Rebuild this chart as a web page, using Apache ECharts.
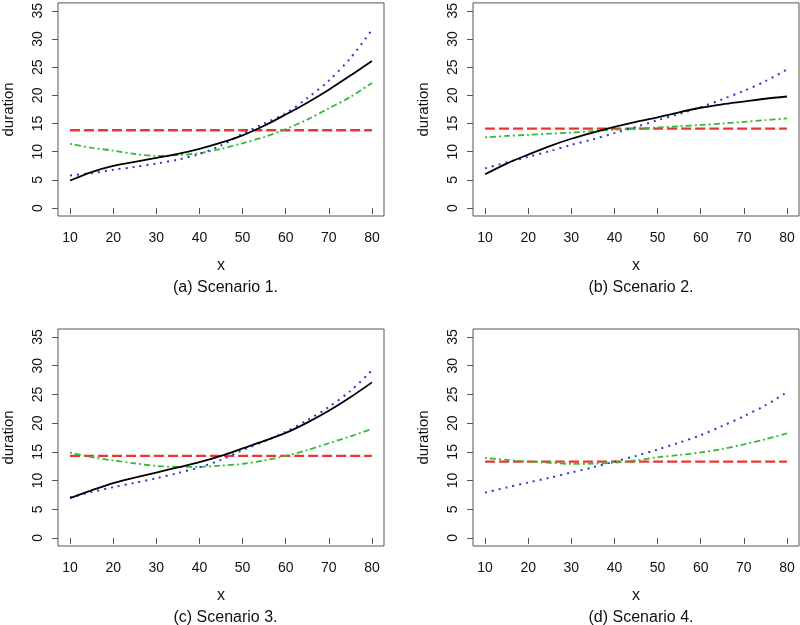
<!DOCTYPE html>
<html>
<head>
<meta charset="utf-8">
<script src="https://cdn.jsdelivr.net/npm/echarts@6/dist/echarts.min.js"></script>
<style>html,body{margin:0;padding:0;background:#fff}#c{width:800px;height:625px}</style>
</head>
<body>
<div id="c"></div>
<script>
var xs = [10, 15, 20, 25, 30, 35, 40, 45, 50, 55, 60, 65, 70, 75, 80];
var xTicks = [10, 20, 30, 40, 50, 60, 70, 80];
var yTicks = [0, 5, 10, 15, 20, 25, 30, 35];
var captions = ['(a) Scenario 1.', '(b) Scenario 2.', '(c) Scenario 3.', '(d) Scenario 4.'];

// Scenario 1
var s1Solid  = [4.9, 6.4, 7.5, 8.2, 8.9, 9.6, 10.5, 11.6, 12.9, 14.6, 16.6, 18.7, 21.0, 23.5, 26.1];
var s1Dotted = [5.8, 6.2, 6.8, 7.3, 7.9, 8.6, 9.6, 11.1, 13.2, 15.0, 16.8, 19.5, 22.6, 26.6, 31.6];
var s1DotDash= [11.4, 10.7, 10.2, 9.6, 9.25, 9.4, 9.75, 10.5, 11.5, 12.6, 14.0, 15.7, 17.7, 19.7, 22.2];
var s1Dashed = 13.8;
// Scenario 2
var s2Solid  = [6.0, 7.9, 9.5, 11.0, 12.3, 13.4, 14.4, 15.3, 16.1, 17.0, 17.8, 18.4, 18.9, 19.4, 19.8];
var s2Dotted = [7.05, 8.1, 9.1, 10.1, 11.2, 12.2, 13.3, 14.4, 15.6, 16.7, 17.9, 19.3, 20.8, 22.5, 24.6];
var s2DotDash= [12.55, 12.8, 13.0, 13.2, 13.4, 13.65, 13.9, 14.1, 14.3, 14.5, 14.75, 15.0, 15.3, 15.6, 15.9];
var s2Dashed = 14.1;
// Scenario 3
var s3Solid  = [6.95, 8.3, 9.55, 10.5, 11.4, 12.3, 13.2, 14.3, 15.6, 16.9, 18.3, 20.1, 22.15, 24.5, 27.1];
var s3Dotted = [7.05, 8.0, 8.85, 9.6, 10.4, 11.3, 12.3, 13.6, 15.3, 16.8, 18.5, 20.5, 22.8, 25.6, 29.2];
var s3DotDash= [14.85, 14.1, 13.5, 13.0, 12.55, 12.4, 12.4, 12.6, 12.9, 13.5, 14.3, 15.3, 16.5, 17.7, 19.0];
var s3Dashed = 14.3;
// Scenario 4
var s4Solid  = null;
var s4Dotted = [7.9, 8.8, 9.65, 10.5, 11.4, 12.3, 13.3, 14.3, 15.4, 16.6, 17.9, 19.5, 21.2, 23.1, 25.4];
var s4DotDash= [13.95, 13.6, 13.3, 13.1, 12.9, 12.95, 13.1, 13.5, 14.05, 14.45, 14.9, 15.5, 16.3, 17.2, 18.2];
var s4Dashed = 13.3;

var scen = [
  {solid: s1Solid, dotted: s1Dotted, dotdash: s1DotDash, dashed: s1Dashed},
  {solid: s2Solid, dotted: s2Dotted, dotdash: s2DotDash, dashed: s2Dashed},
  {solid: s3Solid, dotted: s3Dotted, dotdash: s3DotDash, dashed: s3Dashed},
  {solid: s4Solid, dotted: s4Dotted, dotdash: s4DotDash, dashed: s4Dashed}
];

var FONT = 'Liberation Sans, Arial, Helvetica, sans-serif';
var gridPos = [
  {left: 57, top: -1, width: 327, height: 217},
  {left: 473, top: -1, width: 326, height: 217},
  {left: 57, top: 329, width: 327, height: 217},
  {left: 473, top: 329, width: 326, height: 217}
];
var grids = [], xAxes = [], yAxes = [], series = [], titles = [];
function pairs(arr) { return xs.map(function (x, i) { return [x, arr[i]]; }); }
for (var i = 0; i < 4; i++) {
  var g = gridPos[i];
  grids.push({left: g.left, top: g.top, width: g.width, height: g.height, show: true,
    borderColor: '#555', borderWidth: 1, backgroundColor: 'transparent', containLabel: false});
  xAxes.push({type: 'value', gridIndex: i, min: 7.2, max: 82.8,
    name: 'x', nameLocation: 'middle', nameGap: 42,
    nameTextStyle: {fontFamily: FONT, fontSize: 16, color: '#111'},
    axisLine: {show: false}, splitLine: {show: false},
    axisTick: {show: true, length: 6, customValues: xTicks, lineStyle: {color: '#555', width: 1}},
    axisLabel: {customValues: xTicks, fontFamily: FONT, fontSize: 14, color: '#111', margin: 15}
  });
  yAxes.push({type: 'value', gridIndex: i, min: -1.4, max: 36.4,
    name: 'duration', nameLocation: 'middle', nameGap: 42,
    nameTextStyle: {fontFamily: FONT, fontSize: 15, color: '#111'},
    axisLine: {show: false}, splitLine: {show: false},
    axisTick: {show: true, length: 6, customValues: yTicks, lineStyle: {color: '#555', width: 1}},
    axisLabel: {customValues: yTicks, rotate: 90, fontFamily: FONT, fontSize: 14, color: '#111', margin: 13}
  });
  var s = scen[i];
  series.push({type: 'line', xAxisIndex: i, yAxisIndex: i, showSymbol: false, smooth: 0.3,
    data: [[10, s.dashed], [80, s.dashed]], z: 2,
    lineStyle: {color: '#ee3333', width: 2.4, type: [10, 4]}});
  series.push({type: 'line', xAxisIndex: i, yAxisIndex: i, showSymbol: false, smooth: 0.3,
    data: pairs(s.dotdash), z: 3,
    lineStyle: {color: '#33bb33', width: 1.8, type: [2, 3, 6, 3]}});
  series.push({type: 'line', xAxisIndex: i, yAxisIndex: i, showSymbol: false, smooth: 0.3,
    data: pairs(s.dotted), z: 4,
    lineStyle: {color: '#2a3acc', width: 2, type: [2, 5]}});
  if (s.solid) {
    series.push({type: 'line', xAxisIndex: i, yAxisIndex: i, showSymbol: false, smooth: 0.3,
      data: pairs(s.solid), z: 5,
      lineStyle: {color: '#000', width: 1.8, type: 'solid'}});
  }
  titles.push({text: captions[i], left: g.left + g.width / 2, top: g.top + g.height + 59,
    textAlign: 'center',
    textStyle: {fontFamily: FONT, fontSize: 16, fontWeight: 'normal', color: '#111'}});
}
var chart = echarts.init(document.getElementById('c'), null, {renderer: 'canvas'});
chart.setOption({
  animation: false,
  backgroundColor: '#fff',
  title: titles,
  grid: grids,
  xAxis: xAxes,
  yAxis: yAxes,
  series: series
});
</script>
</body>
</html>
